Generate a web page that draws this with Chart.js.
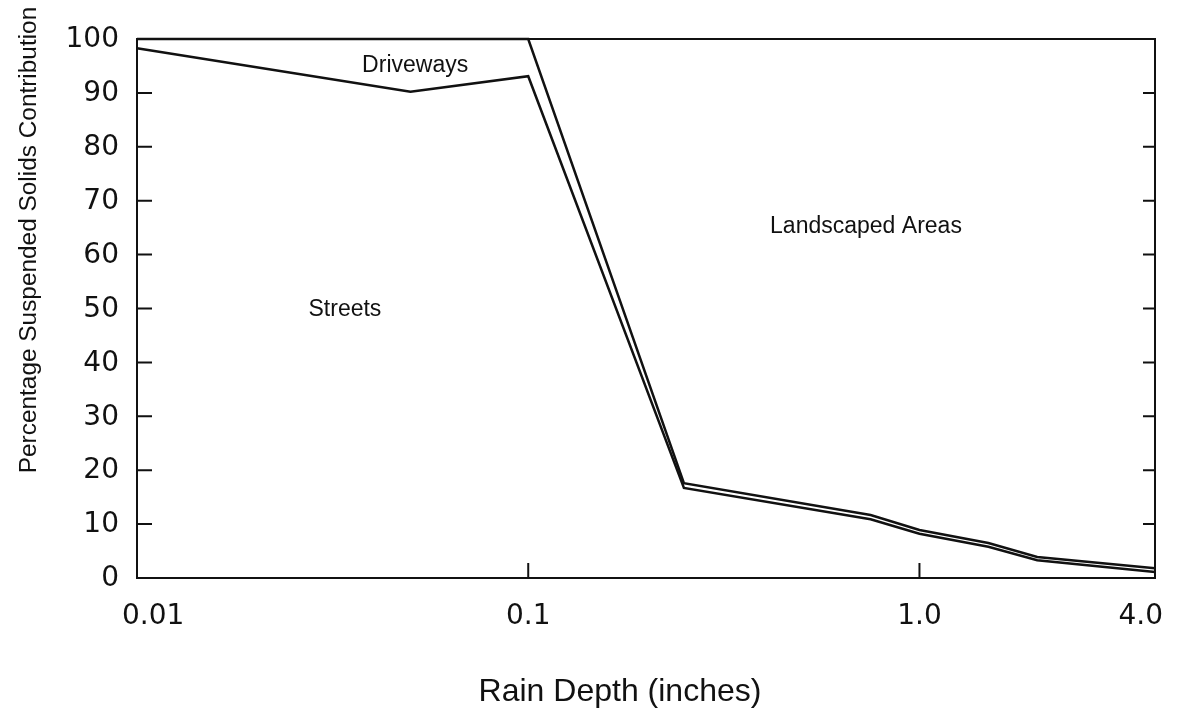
<!DOCTYPE html>
<html>
<head>
<meta charset="utf-8">
<script src="https://cdn.jsdelivr.net/npm/chart.js@4.4.1/dist/chart.umd.min.js"></script>
<style>
  html, body { margin: 0; padding: 0; background: #fff; }
  #wrap { width: 1179px; height: 713px; }
</style>
</head>
<body>
<div id="wrap"><canvas id="chart" width="1179" height="713"></canvas></div>
<script>
// Rain depth (inches) at each break point of the curves
const rainDepth = [0.01, 0.05, 0.1, 0.25, 0.75, 1.0, 1.5, 2.0, 4.0];
// Upper edge of the "Streets" band
const streetsTop = [98.3, 90.2, 93.1, 16.7, 10.9, 8.2, 5.8, 3.3, 1.1];
// Upper edge of the "Driveways" band (above it: landscaped areas)
const drivewaysTop = [100, 100, 100, 17.6, 11.7, 8.9, 6.5, 3.9, 1.8];

const xTicks = [0.01, 0.1, 1.0, 4.0];
const xTickLabels = ['0.01', '0.1', '1.0', '4.0'];
const yTicks = [0, 10, 20, 30, 40, 50, 60, 70, 80, 90, 100];

const areaLabels = [
    { text: 'Driveways', x: 0.0514, y: 95.1 },
    { text: 'Streets', x: 0.034, y: 49.7 },
    { text: 'Landscaped Areas', x: 0.73, y: 65.1 }
];

const ink = '#111';

function toPoints(ys) {
    return rainDepth.map((x, i) => ({ x: x, y: ys[i] }));
}

// axes are drawn by hand so the inward ticks and label spacing match the plot
const framePlugin = {
    id: 'frame',
    afterDraw(chart) {
        const ctx = chart.ctx;
        const area = chart.chartArea;
        const xs = chart.scales.x;
        const ys = chart.scales.y;
        ctx.save();

        ctx.strokeStyle = ink;
        ctx.lineWidth = 2;
        ctx.strokeRect(area.left, area.top, area.right - area.left, area.bottom - area.top);

        // y ticks, inward on both sides
        ctx.fillStyle = ink;
        ctx.font = '28px "DejaVu Sans"';
        ctx.textAlign = 'right';
        ctx.textBaseline = 'middle';
        yTicks.forEach(v => {
            const py = ys.getPixelForValue(v);
            if (v > 0 && v < 100) {
                ctx.beginPath();
                ctx.moveTo(area.left, py);
                ctx.lineTo(area.left + 15, py);
                ctx.moveTo(area.right, py);
                ctx.lineTo(area.right - 12, py);
                ctx.stroke();
            }
            ctx.fillText(String(v), area.left - 18, py + 1);
        });

        // x ticks
        xTicks.forEach((v, i) => {
            const px = xs.getPixelForValue(v);
            if (i > 0 && i < xTicks.length - 1) {
                ctx.beginPath();
                ctx.moveTo(px, area.bottom);
                ctx.lineTo(px, area.bottom - 15);
                ctx.stroke();
            }
            let lx = px;
            if (i === 0) { ctx.textAlign = 'left'; lx = px - 15; }
            else if (i === xTicks.length - 1) { ctx.textAlign = 'right'; lx = px + 8; }
            else { ctx.textAlign = 'center'; }
            ctx.fillText(xTickLabels[i], lx, 617);
        });

        // axis titles
        ctx.textAlign = 'center';
        ctx.font = '32px "Liberation Sans"';
        ctx.fillText('Rain Depth (inches)', 620, 692);

        ctx.save();
        ctx.translate(29, 240);
        ctx.rotate(-Math.PI / 2);
        ctx.font = '24.4px "Liberation Sans"';
        ctx.fillText('Percentage Suspended Solids Contribution', 0, 0);
        ctx.restore();

        // area names
        ctx.font = '23px "Liberation Sans"';
        areaLabels.forEach(l => {
            ctx.fillText(l.text, xs.getPixelForValue(l.x), ys.getPixelForValue(l.y));
        });

        ctx.restore();
    }
};

new Chart(document.getElementById('chart'), {
    type: 'line',
    data: {
        datasets: [
            { label: 'Streets', data: toPoints(streetsTop) },
            { label: 'Driveways', data: toPoints(drivewaysTop) }
        ]
    },
    options: {
        responsive: false,
        animation: false,
        layout: { padding: { left: 137, right: 24, top: 39, bottom: 135 } },
        elements: {
            line: { borderColor: ink, borderWidth: 2.5, tension: 0 },
            point: { radius: 0 }
        },
        datasets: { line: { clip: 4 } },
        plugins: {
            legend: { display: false },
            tooltip: { enabled: false }
        },
        scales: {
            x: { type: 'logarithmic', min: 0.01, max: 4, display: false },
            y: { type: 'linear', min: 0, max: 100, display: false }
        }
    },
    plugins: [framePlugin]
});
</script>
</body>
</html>
